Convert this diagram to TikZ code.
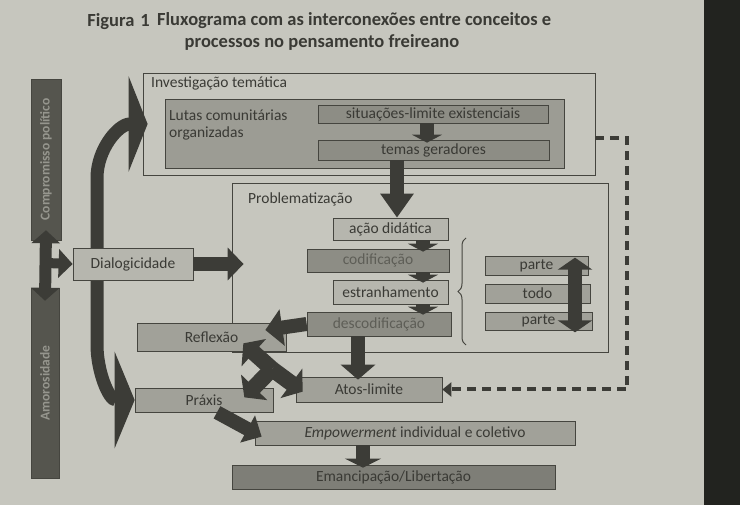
\documentclass[tikz,border=0pt]{standalone}
\usepackage{fontspec}
\setmainfont{Carlito}
\usetikzlibrary{arrows.meta,positioning,decorations.pathreplacing}
\definecolor{page}{HTML}{C6C6BE}
\definecolor{pageedge}{HTML}{22231F}
\definecolor{edge}{HTML}{45453F}
\definecolor{ink}{HTML}{3A3A35}
\definecolor{fadedink}{HTML}{5E5E57}
\definecolor{arrowc}{HTML}{3C3C37}
\definecolor{barc}{HTML}{55554E}
\definecolor{bartext}{HTML}{96968E}
\definecolor{lightbox}{HTML}{B6B6AE}
\definecolor{midbox}{HTML}{A1A199}
\definecolor{darkbox}{HTML}{8D8D85}
\definecolor{lutasfill}{HTML}{9C9C94}
\definecolor{emancfill}{HTML}{7E7E77}

\begin{document}
\begin{tikzpicture}[x=1pt,y=-1pt,
    box/.style={draw=edge, line width=0.7pt, inner sep=0pt, text=ink, font=\fontsize{15.5}{17}\selectfont},
    frame/.style={draw=edge, line width=0.8pt, inner sep=0pt},
    boxtext/.style={inner sep=1pt, text=ink, font=\fontsize{15.5}{17}\selectfont, align=left},
    titletext/.style={inner sep=0pt, text=ink, font=\bfseries\fontsize{18.5}{20}\selectfont},
    bar/.style={fill=barc, draw=edge, line width=0.5pt, inner sep=0pt, text=bartext, font=\bfseries\fontsize{13.5}{15}\selectfont},
    blockarrow/.style={draw=arrowc, line width=14pt, -{Triangle[length=16pt,width=32pt]}},
    smallarrow/.style={draw=arrowc, line width=14pt, -{Triangle[length=8pt,width=30pt]}},
    twinarrow/.style={draw=arrowc, line width=12pt, {Triangle[length=13pt,width=28pt]}-{Triangle[length=13pt,width=28pt]}},
    dashlink/.style={draw=arrowc, line width=4pt, dash pattern=on 9pt off 6pt, -{Triangle[length=9pt,width=14pt]}}
]
\useasboundingbox (0,0) rectangle (740,505);
\fill[page] (0,0) rectangle (740,505);
\fill[pageedge] (704,0) rectangle (740,505);

% title
\node[titletext, anchor=base east] (figno) at (150,27) {Figura\hspace{6pt}1};
\node[titletext, anchor=base west] (title) at (157,26) {Fluxograma com as interconexões entre conceitos e};
\node[titletext, anchor=base] (title2) at (322,48) {processos no pensamento freireano};

% side bars
\node[bar, minimum width=30, minimum height=161] (comp) at (46,159.5) {\rotatebox{90}{Compromisso político}};
\node[bar, minimum width=28, minimum height=190] (amor) at (45,383) {\rotatebox{90}{Amorosidade}};

% investigacao tematica
\node[frame, minimum width=452, minimum height=102] (invest) at (369,124) {};
\node[boxtext, anchor=north west] (investlabel) at (150,76) {Investigação temática};
\node[frame, fill=lutasfill, minimum width=399, minimum height=69] (lutasbox) at (364.5,133.5) {};
\node[boxtext, anchor=north west] (lutas) at (168,109) {Lutas comunitárias\\organizadas};
\node[box, fill=darkbox, minimum width=230, minimum height=18] (situ) at (433,114) {situações-limite existenciais};
\node[box, fill=darkbox, minimum width=231, minimum height=20] (temas) at (433.5,150) {temas geradores};

% problematizacao
\node[frame, minimum width=376, minimum height=169] (probl) at (420,267.5) {};
\node[boxtext, anchor=north west] (probllabel) at (247,192) {Problematização};
\node[box, fill=lightbox, minimum width=115, minimum height=22] (acao) at (390.5,229) {ação didática};
\node[box, fill=darkbox, text=fadedink, minimum width=142, minimum height=23] (codif) at (378,260.5) {codificação};
\node[box, fill=lightbox, minimum width=115, minimum height=24] (estranh) at (390.5,292) {estranhamento};
\node[box, fill=darkbox, text=fadedink, minimum width=144, minimum height=24] (descod) at (379,324) {descodificação};
\node[box, fill=midbox, minimum width=103, minimum height=19] (parteA) at (536.5,265.5) {parte};
\node[box, fill=midbox, minimum width=105, minimum height=19] (todo) at (537.5,293.5) {todo};
\node[box, fill=midbox, minimum width=107, minimum height=18] (parteB) at (538.5,321) {parte};
\draw[edge, line width=1pt, decorate, decoration={brace, amplitude=8pt}] (466,345) -- (466,238);

% lower boxes
\node[box, fill=midbox, minimum width=149, minimum height=28] (reflex) at (211.5,337) {Reflexão};
\node[box, fill=midbox, minimum width=146, minimum height=25] (atos) at (369,389.5) {Atos-limite};
\node[box, fill=midbox, minimum width=138, minimum height=24] (praxis) at (204,400) {Práxis};
\node[box, fill=midbox, minimum width=320, minimum height=24] (empow) at (415,433) {\emph{Empowerment} individual e coletivo};
\node[box, fill=emancfill, minimum width=323, minimum height=24] (emanc) at (393.5,477) {Emancipação/Libertação};

% curved arrow behind Dialogicidade
\coordinate (spinetop) at (97,178);
\coordinate (spinebot) at (97,345);
\draw[draw=arrowc, line width=13pt, {Triangle[length=19pt,width=95pt]}-{Triangle[length=20pt,width=96pt]}]
    ([xshift=5pt]invest.west) to[out=180,in=90] (spinetop) -- (spinebot) to[out=-90,in=180] (praxis.west);

\node[box, fill=lightbox, minimum width=120, minimum height=32] (dialog) at (133,264) {Dialogicidade};

% arrows
\coordinate (hub) at (46,263);
\coordinate (mainx) at (397,0);
\coordinate (chainx) at (423,0);
\coordinate (situx) at (427,0);
\coordinate (partex) at (575,0);
\coordinate (emancx) at (363,0);
\coordinate (trihub) at (272,369);
\draw[twinarrow] ([yshift=10pt]comp.south) -- ([yshift=-13pt]amor.north);
\draw[draw=arrowc, line width=10pt, -{Triangle[length=14pt,width=28pt]}] (hub) -- (dialog.west);
\draw[blockarrow] (dialog.east) -- ([xshift=12pt]probl.west |- dialog.east);
\draw[smallarrow] (situ.south -| situx) -- ([yshift=-3pt]temas.north -| situx);
\draw[draw=arrowc, line width=14pt, -{Triangle[length=24pt,width=32pt]}] (temas.south -| mainx) -- (acao.north -| mainx);
\foreach \a/\b in {acao/codif, codif/estranh, estranh/descod} {
    \draw[smallarrow] (\a.south -| chainx) -- ([yshift=-3pt]\b.north -| chainx);
}
\draw[draw=arrowc, line width=14pt, {Triangle[length=12pt,width=34pt]}-{Triangle[length=12pt,width=34pt]}]
    ([yshift=-2pt]parteA.north -| partex) -- ([yshift=-2pt]parteB.south -| partex);
\draw[blockarrow, -{Triangle[length=17pt,width=36pt]}] (descod.west) -- ([xshift=-21pt,yshift=7pt]reflex.east);
\draw[blockarrow, -{Triangle[length=15pt,width=34pt]}] ([xshift=-21pt]descod.south) -- ([xshift=-11pt,yshift=-3pt]atos.north);
\draw[draw=arrowc, line width=16pt, -{Triangle[length=14pt,width=36pt]}] (trihub) -- ([xshift=-43pt,yshift=8pt]reflex.south east);
\draw[draw=arrowc, line width=16pt, -{Triangle[length=14pt,width=36pt]}] (trihub) -- ([xshift=7pt,yshift=-15pt]atos.north west);
\draw[draw=arrowc, line width=16pt, -{Triangle[length=14pt,width=36pt]}] (trihub) -- ([xshift=-29pt,yshift=15pt]praxis.south east);
\draw[blockarrow, -{Triangle[length=16pt,width=30pt]}] ([xshift=13pt]praxis.south) -- ([xshift=7pt,yshift=-16pt]empow.north west);
\draw[smallarrow, -{Triangle[length=9pt,width=36pt]}] (empow.south -| emancx) -- ([yshift=-3pt]emanc.north -| emancx);
\draw[dashlink] ([yshift=-14pt]invest.east) -- ++(32,0) |- (atos.east);
\end{tikzpicture}
\end{document}
